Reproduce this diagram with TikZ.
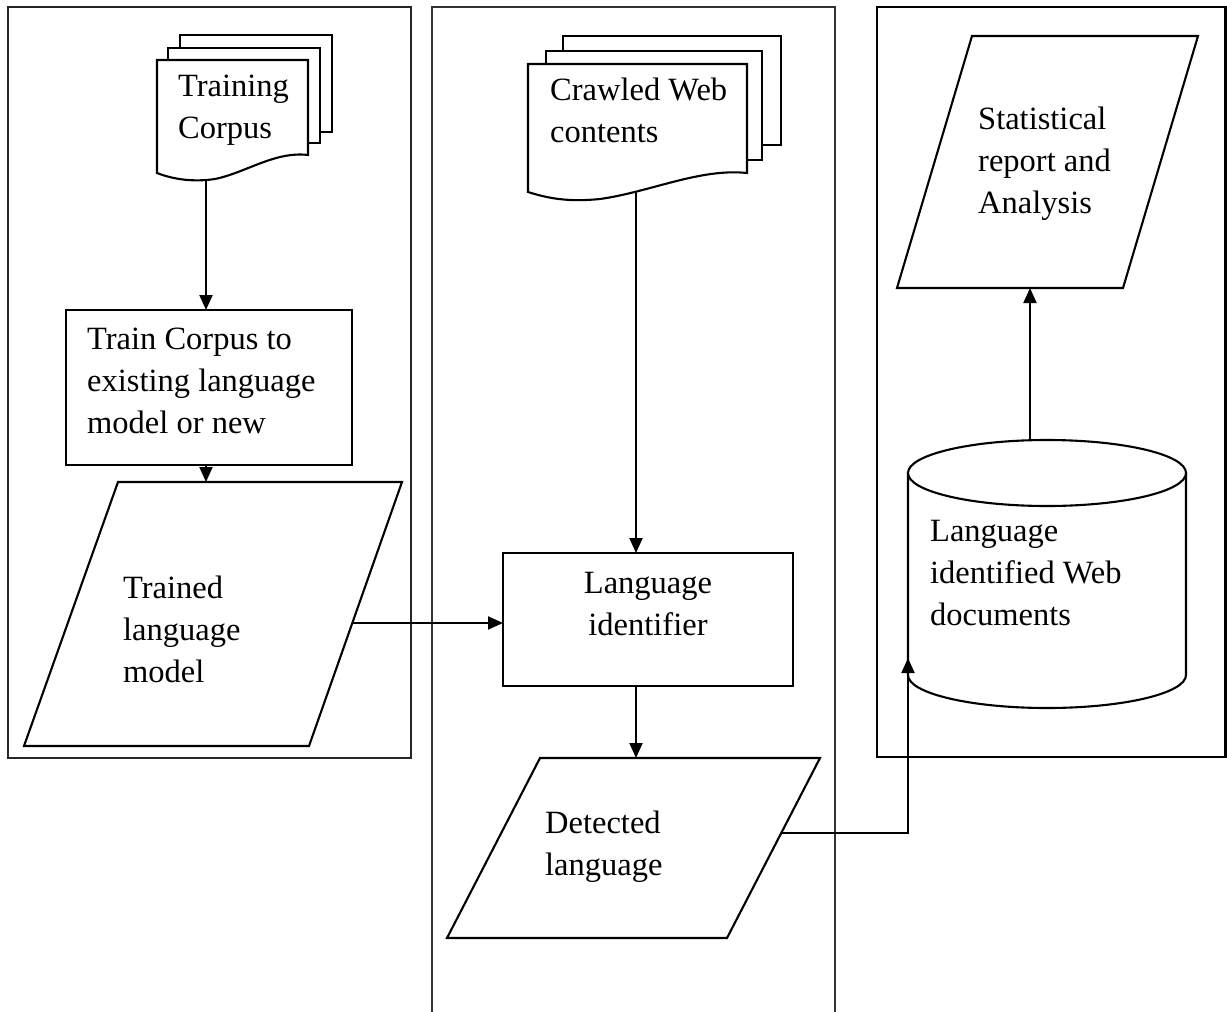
\documentclass[tikz,border=0pt]{standalone}
\usepackage{fontspec}
\setmainfont{Liberation Serif}
\usetikzlibrary{arrows.meta,calc}
\begin{document}
\begin{tikzpicture}[x=1pt,y=-1pt,
  shapeline/.style={draw=black, line width=2.1pt, fill=white, line join=miter},
  box/.style={shapeline, rectangle, outer sep=0pt, inner sep=0pt},
  flow/.style={line width=2.1pt, -{Triangle[length=15pt,width=13pt]}},
  txt/.style={font=\fontsize{32.5}{42}\selectfont, align=left, anchor=base west, inner sep=0pt},
  ctxt/.style={txt, align=center, anchor=base},
]
\useasboundingbox (0,0) rectangle (1227,1012);

% ---- column frames ----
\draw[line width=2.9pt, draw=black!85] (8,7) rectangle (411,758);
\draw[line width=1.6pt, draw=black!80] (432,1014) -- (432,7) -- (835,7) -- (835,1014);
\draw[line width=2.1pt] (877,7) rectangle (1225.5,757);

% ---- training corpus (stack of documents) ----
\path[shapeline] (180,35) rectangle (332,132);
\path[shapeline] (168,48) rectangle (320,143);
\path[shapeline] (157,60) -- (308,60) -- (308,155)
  .. controls (275,151) and (245,173) .. (215,179)
  .. controls (195,182) and (175,180) .. (157,173) -- cycle;
\coordinate (tc-out) at (206,179.5);
% multi-line labels are placed by the baseline of their last line
\node[txt] (tc) at (178,138) {Training\\Corpus};

% ---- training step ----
\node[box, minimum width=286pt, minimum height=155pt, anchor=north west] (train) at (66,310) {};
\node[txt] (train-t) at (87,433) {Train Corpus to\\existing language\\model or new};

% ---- trained language model ----
\coordinate (tlm-tl) at (118,482);
\coordinate (tlm-tr) at (402,482);
\coordinate (tlm-br) at (309,746);
\coordinate (tlm-bl) at (24,746);
\path[shapeline] (tlm-tl) -- (tlm-tr) -- (tlm-br) -- (tlm-bl) -- cycle;
\node[txt] (tlm) at (123,682) {Trained\\language\\model};
\coordinate (tlm-out) at ($(tlm-tr)!0.534!(tlm-br)$);

% ---- crawled web contents (stack of documents) ----
\path[shapeline] (563,36) rectangle (781,145);
\path[shapeline] (546,51) rectangle (762,160);
\path[shapeline] (528,64) -- (747,64) -- (747,173)
  .. controls (700,168) and (650,192) .. (600,199)
  .. controls (570,202) and (550,199) .. (528,192) -- cycle;
\coordinate (cw-out) at (636,191);
\node[txt] (cw) at (550,142) {Crawled Web\\contents};

% ---- language identifier ----
\node[box, minimum width=290pt, minimum height=133pt, anchor=north west] (langid) at (503,553) {};
\node[ctxt] (langid-t) at (648,635) {Language\\identifier};

% ---- detected language ----
\coordinate (det-tl) at (540,758);
\coordinate (det-tr) at (820,758);
\coordinate (det-br) at (727,938);
\coordinate (det-bl) at (447,938);
\path[shapeline] (det-tl) -- (det-tr) -- (det-br) -- (det-bl) -- cycle;
\node[txt] (det) at (545,875) {Detected\\language};
\coordinate (det-out) at ($(det-tr)!0.4167!(det-br)$);

% ---- language identified web documents (store) ----
\path[shapeline] (908,473) -- (908,675)
  .. controls (908,693.2) and (970.2,708) .. (1047,708)
  .. controls (1123.8,708) and (1186,693.2) .. (1186,675) -- (1186,473) -- cycle;
\draw[line width=2.1pt, fill=white] (1047,473) ellipse [x radius=139, y radius=33];
\node[txt] (store) at (930,625) {Language\\identified Web\\documents};
\coordinate (store-in) at (908,658);
\coordinate (store-out) at (1030,440.5);

% ---- statistical report ----
\coordinate (rep-tl) at (972,36);
\coordinate (rep-tr) at (1198,36);
\coordinate (rep-br) at (1123,288);
\coordinate (rep-bl) at (897,288);
\path[shapeline] (rep-tl) -- (rep-tr) -- (rep-br) -- (rep-bl) -- cycle;
\node[txt] (rep) at (978,213) {Statistical\\report and\\Analysis};

% ---- connectors ----
\draw[flow] (tc-out) -- (tc-out |- train.north);
\draw[flow] (tc-out |- train.south) -- (tc-out |- tlm-tl);
\draw[flow] (tlm-out) -- (tlm-out -| langid.west);
\draw[flow] (cw-out) -- (cw-out |- langid.north);
\draw[flow] (cw-out |- langid.south) -- (cw-out |- det-tl);
\draw[flow] (det-out) -| (store-in);
\draw[flow] (store-out) -- (store-out |- rep-bl);
\end{tikzpicture}
\end{document}
